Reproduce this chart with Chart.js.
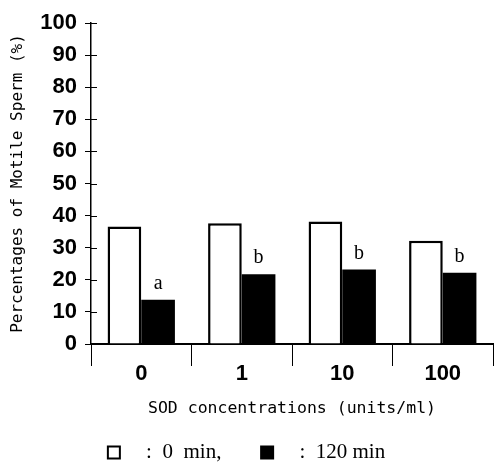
<!DOCTYPE html>
<html>
<head>
<meta charset="utf-8">
<script src="https://cdn.jsdelivr.net/npm/chart.js@4.4.0/dist/chart.umd.min.js"></script>
<style>
  html, body { margin: 0; padding: 0; background: #fff; }
  canvas { display: block; }
</style>
</head>
<body>
<canvas id="spermChart" width="495" height="467"></canvas>
<script>
// data
const concentrations = ['0', '1', '10', '100'];
const seriesNames = ['0 min', '120 min'];
const motile0min = [36.6, 37.6, 38.2, 32.2];
const motile120min = [13.8, 21.7, 23.2, 22.2];
const sigLetters = ['a', 'b', 'b', 'b'];
const yTicks = [0, 10, 20, 30, 40, 50, 60, 70, 80, 90, 100];

const sansFont = "'Liberation Sans', Arial, sans-serif";
const monoFont = "'DejaVu Sans Mono', monospace";
const serifFont = "'Liberation Serif', 'Times New Roman', serif";

// small tick marks that cross the y axis, plus the a/b letters over the 120 min bars
const extrasPlugin = {
    id: 'extras',
    afterDatasetsDraw(chart) {
        const c = chart.ctx;
        const y = chart.scales.y;
        c.save();
        c.strokeStyle = '#000';
        c.lineWidth = 1;
        y.ticks.forEach((t, i) => {
            const py = Math.round(y.getPixelForTick(i)) + 0.5;
            c.beginPath();
            c.moveTo(y.right, py);
            c.lineTo(y.right + 6, py);
            c.stroke();
        });

        c.fillStyle = '#000';
        c.font = '20px ' + serifFont;
        c.textAlign = 'center';
        c.textBaseline = 'alphabetic';
        chart.getDatasetMeta(1).data.forEach((bar, i) => {
            c.fillText(sigLetters[i], bar.x, bar.y - 11);
        });
        c.restore();
    }
};

// legend texts, spaced the way the printed key is
const legendTexts = ['   :  0  min,       ', '   :  120 min'];

const ctx = document.getElementById('spermChart').getContext('2d');
new Chart(ctx, {
    type: 'bar',
    data: {
        labels: concentrations,
        datasets: [
            {
                label: seriesNames[0],
                data: motile0min,
                backgroundColor: '#fff',
                borderColor: '#000',
                borderWidth: 2.5
            },
            {
                label: seriesNames[1],
                data: motile120min,
                backgroundColor: '#000',
                borderColor: '#000',
                borderWidth: 0
            }
        ]
    },
    options: {
        responsive: false,
        animation: false,
        categoryPercentage: 0.67,
        barPercentage: 1.0,
        layout: {
            padding: { left: 0, right: 2, top: 23, bottom: -6 }
        },
        plugins: {
            tooltip: { enabled: false },
            legend: {
                position: 'bottom',
                labels: {
                    color: '#000',
                    font: { family: serifFont, size: 21 },
                    boxWidth: 12,
                    boxHeight: 12,
                    padding: 3,
                    generateLabels: chart => chart.data.datasets.map((ds, i) => ({
                        text: legendTexts[i],
                        fillStyle: ds.backgroundColor,
                        strokeStyle: '#000',
                        lineWidth: 2,
                        datasetIndex: i
                    }))
                }
            }
        },
        scales: {
            x: {
                grid: {
                    display: true,
                    drawOnChartArea: false,
                    drawTicks: true,
                    tickLength: 22,
                    color: '#000',
                    lineWidth: 1
                },
                border: { display: true, color: '#000', width: 2 },
                ticks: {
                    color: '#000',
                    padding: -5,
                    font: { family: sansFont, size: 22, weight: 'bold' }
                },
                title: {
                    display: true,
                    text: 'SOD concentrations (units/ml)',
                    color: '#000',
                    font: { family: monoFont, size: 16.5 },
                    padding: { top: 0, bottom: 20 }
                },
                afterFit: scale => { scale.height = 95; }
            },
            y: {
                min: 0,
                max: 100,
                afterBuildTicks: scale => { scale.ticks = yTicks.map(v => ({ value: v })); },
                grid: {
                    display: true,
                    drawOnChartArea: false,
                    drawTicks: true,
                    tickLength: 6,
                    color: '#000',
                    lineWidth: 1
                },
                border: { display: true, color: '#000', width: 1.5 },
                ticks: {
                    color: '#000',
                    padding: 8,
                    font: { family: sansFont, size: 22, weight: 'bold' }
                },
                title: {
                    display: true,
                    text: 'Percentages of Motile Sperm (%)',
                    color: '#000',
                    font: { family: monoFont, size: 16 },
                    padding: { top: 8, bottom: 0 }
                },
                afterFit: scale => { scale.width = 91; }
            }
        }
    },
    plugins: [extrasPlugin]
});
</script>
</body>
</html>
